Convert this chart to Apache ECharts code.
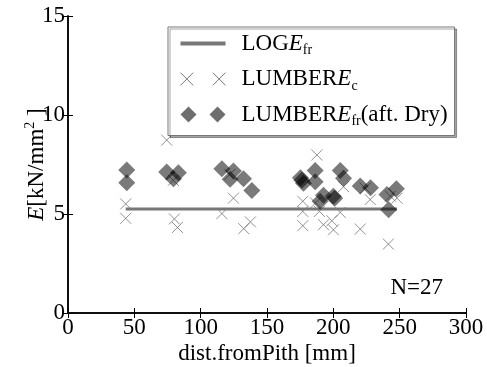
<!DOCTYPE html>
<html>
<head>
<meta charset="utf-8">
<script src="https://cdn.jsdelivr.net/npm/echarts@6/dist/echarts.min.js"></script>
<style>
  html, body { margin: 0; padding: 0; background: #fff; }
  #chart { width: 487px; height: 367px; }
</style>
</head>
<body>
<div id="chart"></div>
<script>
// LOG E_fr: flat mean line
const logLine = [[43.5, 5.25], [248, 5.25]];

// LUMBER E_c (crosses)
const lumberEc = [
  [43.5, 5.51], [43.5, 4.78], [74.4, 8.73], [80.2, 4.75], [82.5, 4.32],
  [79.4, 6.7], [116, 5.02], [122, 7.0], [124.7, 5.8], [132.5, 4.26],
  [137.5, 4.6], [177, 5.64], [177, 5.13], [177, 4.41], [187.6, 7.98],
  [186.6, 5.56], [189.5, 5.13], [192.6, 4.46], [198.9, 4.66], [200.1, 4.2],
  [205.2, 5.08], [207.7, 6.38], [220.3, 4.24], [224, 6.3], [227.8, 5.73],
  [241.5, 3.48], [243, 5.9], [248, 5.8]
];

// LUMBER E_fr after drying (diamonds)
const lumberEfr = [
  [44.3, 7.22], [44.3, 6.58], [74.4, 7.12], [79.5, 6.78], [83.2, 7.08],
  [116, 7.29], [122.2, 6.75], [124.7, 7.17], [132.3, 6.78], [138.6, 6.19],
  [175.2, 6.83], [176.3, 6.7], [177.5, 6.55], [186.3, 7.2], [186.3, 6.63],
  [190, 5.64], [192.6, 5.95], [200, 5.9], [201, 5.8], [205.2, 7.2],
  [207.7, 6.8], [220.3, 6.41], [228, 6.32], [240.4, 5.98], [241.7, 5.22],
  [247.5, 6.27]
];

const xTicks = [0, 50, 100, 150, 200, 250, 300];
const yTicks = [0, 5, 10, 15];

const serif = '"Liberation Serif", "DejaVu Serif", serif';
const fs = 23;

const crossPath = 'path://M0,0L10,10M10,0L0,10';
const crossPair = 'path://M0,0L11,11M11,0L0,11M28,0L39,11M39,0L28,11';
const diamondPair = 'path://M8,0L16,8L8,16L0,8ZM37,0L45,8L37,16L29,8Z';

const chart = echarts.init(document.getElementById('chart'));

const axisCommon = {
  type: 'value',
  axisLine: { show: true, lineStyle: { color: '#000', width: 1.5 } },
  axisTick: { show: true, inside: true, length: 5, lineStyle: { color: '#000', width: 1 } },
  splitLine: { show: false },
};

const richBase = {
  n: { fontFamily: serif, fontSize: fs, color: '#000', lineHeight: 28, verticalAlign: 'middle' },
  i: { fontFamily: serif, fontSize: fs, fontStyle: 'italic', color: '#000', lineHeight: 28, verticalAlign: 'middle' },
  s: { fontFamily: serif, fontSize: 14, color: '#000', lineHeight: 28, verticalAlign: 'bottom', padding: [6, 0, 0, 0] },
  p: { fontFamily: serif, fontSize: 14, color: '#000', lineHeight: 28, verticalAlign: 'top' },
};

const option = {
  backgroundColor: '#fff',
  animation: false,
  grid: { left: 68, right: 21, top: 16, bottom: 54, outerBoundsMode: 'none', containLabel: false },
  legend: {
    orient: 'vertical',
    left: 168,
    top: 27,
    itemWidth: 45,
    itemHeight: 16,
    itemGap: 10,
    padding: [5, 7, 7, 10],
    backgroundColor: '#fff',
    borderColor: '#777',
    borderWidth: 1,
    borderRadius: 0,
    shadowColor: 'rgba(0,0,0,0.35)',
    shadowBlur: 0,
    shadowOffsetX: 2,
    shadowOffsetY: 2,
    textStyle: {
      fontFamily: serif,
      fontSize: fs,
      color: '#000',
      padding: [0, 0, 0, 11],
      rich: richBase,
    },
    formatter: function (name) {
      if (name === 'log') return '{n|LOG}{i|E}{s|fr}';
      if (name === 'ec') return '{n|LUMBER}{i|E}{s|c}';
      return '{n|LUMBER}{i|E}{s|fr}{n|(aft. Dry)}';
    },
    data: [
      { name: 'log', icon: 'path://M0,0L34,0L34,3L0,3Z', itemStyle: { color: '#777', opacity: 1 } },
      { name: 'ec', icon: crossPair, itemStyle: { color: 'none', borderColor: '#777', borderWidth: 1, opacity: 1 } },
      { name: 'efr', icon: diamondPair, itemStyle: { color: '#6e6e6e', borderWidth: 0, opacity: 1 } },
    ],
  },
  xAxis: [
    Object.assign({}, axisCommon, {
      min: 0, max: 300, interval: 50,
      name: 'dist.fromPith [mm]',
      nameLocation: 'middle',
      nameGap: 29,
      nameMoveOverlap: false,
      nameTextStyle: { fontFamily: serif, fontSize: fs, color: '#000' },
      axisLabel: { fontFamily: serif, fontSize: fs, color: '#000', margin: 3,
        formatter: v => xTicks.includes(v) ? String(v) : '' },
    }),
    Object.assign({}, axisCommon, {
      position: 'top', min: 0, max: 300, interval: 50,
      axisLabel: { show: false },
    }),
  ],
  yAxis: [
    Object.assign({}, axisCommon, {
      min: 0, max: 15, interval: 5,
      name: '{i|E}{n|[kN/mm}{p|2}{n| ]}',
      nameLocation: 'middle',
      nameGap: 17,
      nameRotate: 90,
      nameMoveOverlap: false,
      nameTextStyle: { rich: richBase },
      axisLabel: { fontFamily: serif, fontSize: fs, color: '#000', margin: 3,
        formatter: v => yTicks.includes(v) ? String(v) : '' },
    }),
    Object.assign({}, axisCommon, {
      position: 'right', min: 0, max: 15, interval: 5,
      axisLabel: { show: false },
    }),
  ],
  series: [
    {
      name: 'log',
      type: 'line',
      data: logLine,
      symbol: 'none',
      lineStyle: { color: '#777', width: 3 },
      itemStyle: { color: '#777' },
      z: 2,
    },
    {
      name: 'ec',
      type: 'scatter',
      data: lumberEc,
      symbol: crossPath,
      symbolSize: 11,
      itemStyle: { color: 'none', borderColor: '#777', borderWidth: 1 },
      z: 3,
    },
    {
      name: 'efr',
      type: 'scatter',
      data: lumberEfr,
      symbol: 'diamond',
      symbolSize: 17,
      itemStyle: { color: '#000', opacity: 0.52 },
      z: 4,
    },
  ],
  graphic: [
    {
      type: 'text',
      right: 44,
      top: 276,
      style: { text: 'N=27', font: fs + 'px ' + serif, fill: '#000' },
    },
  ],
};

chart.setOption(option);
</script>
</body>
</html>
